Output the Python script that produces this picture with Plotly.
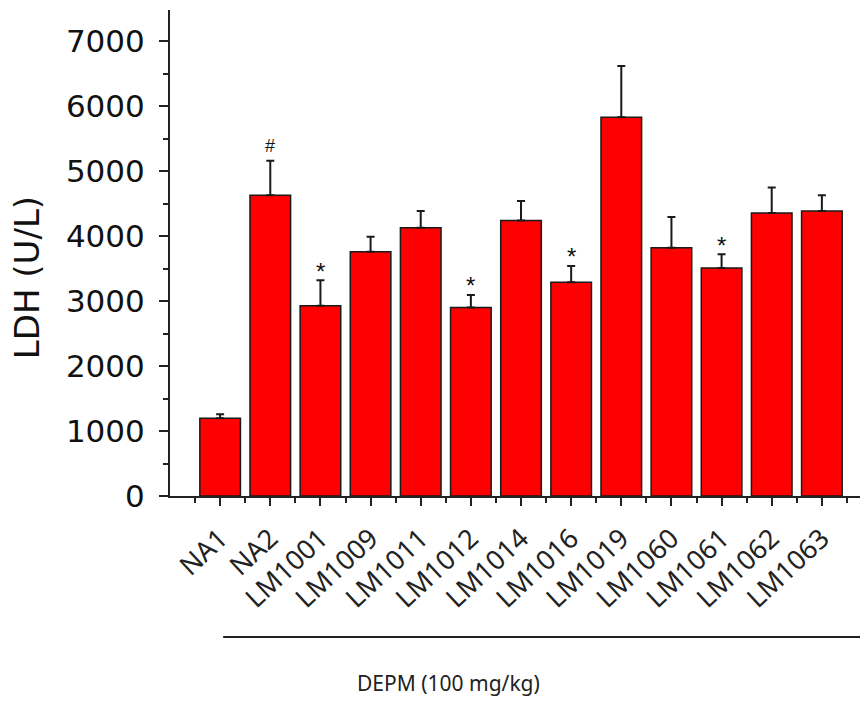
import plotly.graph_objects as go

categories = ["NA1", "NA2", "LM1001", "LM1009", "LM1011", "LM1012", "LM1014",
              "LM1016", "LM1019", "LM1060", "LM1061", "LM1062", "LM1063"]
ldh_mean = [1195, 4630, 2930, 3760, 4130, 2900, 4240, 3290, 5830, 3820, 3510, 4355, 4385]
ldh_sem = [62, 530, 390, 230, 255, 195, 300, 250, 790, 475, 210, 395, 245]
markers = ["", "#", "*", "", "", "*", "", "*", "", "", "*", "", ""]
y_ticks = [0, 1000, 2000, 3000, 4000, 5000, 6000, 7000]

xs = list(range(len(categories)))

fig = go.Figure()
fig.add_trace(go.Bar(
    x=xs, y=ldh_mean, width=0.81,
    marker=dict(color="#FF0000", line=dict(color="#1a1a1a", width=1.5)),
    error_y=dict(type="data", array=ldh_sem, arrayminus=[0] * len(ldh_sem),
                 symmetric=False, color="#1a1a1a", thickness=2, width=4),
    showlegend=False,
))

annotations = []
for i, m in enumerate(markers):
    if not m:
        continue
    annotations.append(dict(
        x=xs[i], y=ldh_mean[i] + ldh_sem[i], xref="x", yref="y",
        text=m, showarrow=False, yanchor="middle",
        yshift=9 if m == "*" else 15,
        font=dict(family="Liberation Sans, Arial", size=24 if m == "*" else 18, color="#111"),
    ))
annotations.append(dict(
    x=4.56, y=-0.418, xref="x", yref="paper", text="DEPM (100 mg/kg)",
    showarrow=False, font=dict(family="Noto Sans, sans-serif", size=21, color="#222"),
))
annotations.append(dict(
    x=-0.205, y=0.45, xref="paper", yref="paper", text="LDH (U/L)",
    textangle=-90, showarrow=False, xanchor="center", yanchor="middle",
    font=dict(family="DejaVu Sans, sans-serif", size=34, color="#111"),
))

fig.update_layout(
    width=868, height=702,
    margin=dict(l=162, r=8, t=2, b=214),
    paper_bgcolor="white", plot_bgcolor="white",
    annotations=annotations,
    shapes=[dict(type="line", xref="x", yref="paper", x0=0.06, x1=13.5,
                 y0=-0.29, y1=-0.29, line=dict(color="#222", width=2))],
    xaxis=dict(
        range=[-1.0, 12.92], tickmode="array", tickvals=xs, ticktext=categories,
        tickangle=-43, ticks="outside", ticklen=8, tickwidth=1.5, tickcolor="#222",
        showline=True, linecolor="#222", linewidth=2, showgrid=False, zeroline=False,
        tickfont=dict(family="Noto Sans, sans-serif", size=27, color="#222"),
        ticklabelstandoff=6,
        minor=dict(tickmode="linear", tick0=-0.5, dtick=1, ticks="outside",
                   ticklen=5, tickwidth=1.5, tickcolor="#222", showgrid=False),
    ),
    yaxis=dict(
        range=[0, 7480], tickmode="array", tickvals=y_ticks,
        ticks="outside", ticklen=9, tickwidth=1.5, tickcolor="#222",
        showline=True, linecolor="#222", linewidth=2, showgrid=False, zeroline=False,
        tickfont=dict(family="DejaVu Sans, sans-serif", size=31, color="#111"),
        ticklabelstandoff=8,
        minor=dict(tickmode="linear", tick0=500, dtick=1000, ticks="outside",
                   ticklen=5, tickwidth=1.5, tickcolor="#222", showgrid=False),
    ),
)

fig.write_html("out.html")
